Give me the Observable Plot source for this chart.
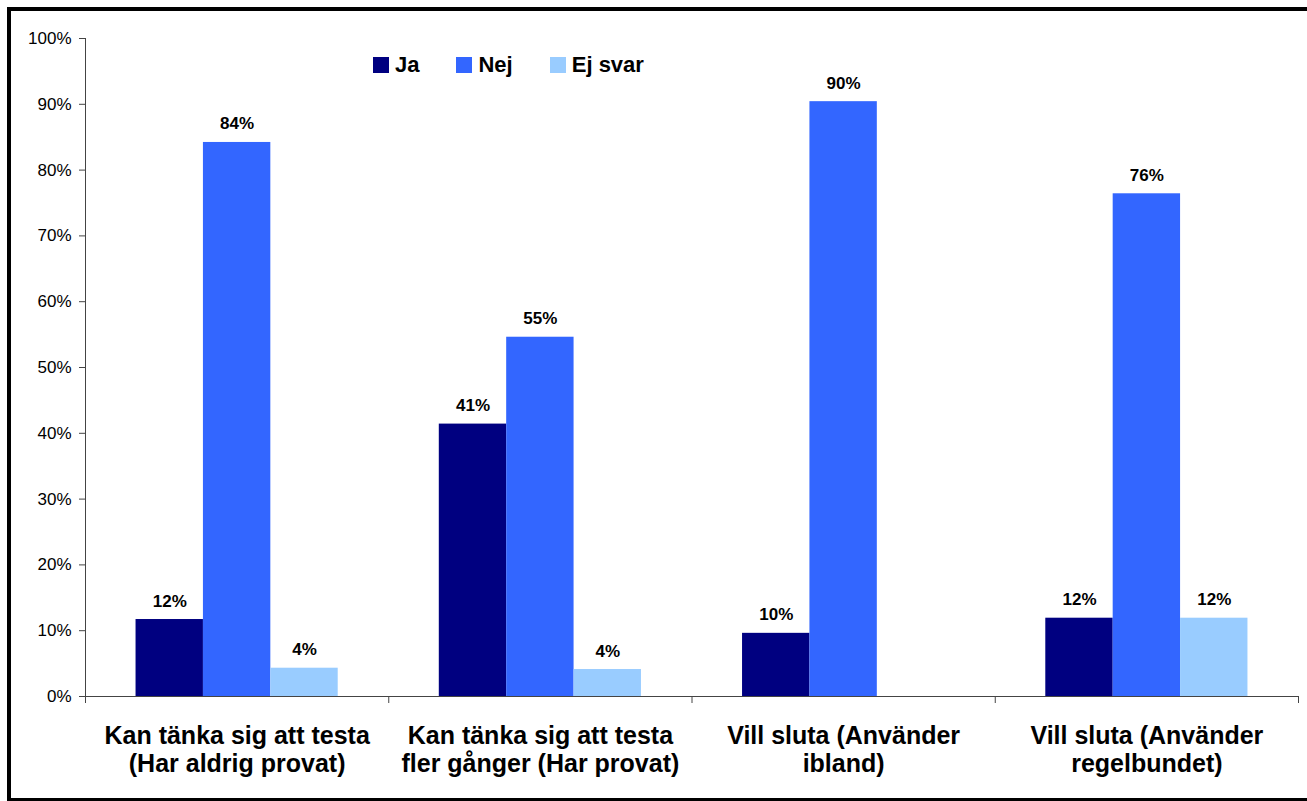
<!DOCTYPE html>
<html>
<head>
<meta charset="utf-8">
<script src="https://cdn.jsdelivr.net/npm/d3@7"></script>
<script src="https://cdn.jsdelivr.net/npm/@observablehq/plot@0.6"></script>
<style>
  html, body { margin: 0; padding: 0; background: #fff; overflow: hidden; width: 1307px; height: 801px; }
  #wrap { position: relative; width: 1307px; height: 801px; font-family: "Liberation Sans", Arial, sans-serif; }
  #chart { position: absolute; left: 0; top: 0; }
  #border { position: absolute; left: 7px; top: 7px; width: 1330px; height: 787px; border: 4px solid #000; box-sizing: content-box; pointer-events: none; }
  #legend { position: absolute; left: 373px; top: 52px; display: flex; gap: 37px; align-items: center; font-weight: bold; font-size: 22px; color: #000; }
  #legend .item { display: flex; align-items: center; gap: 6px; }
  #legend .sw { width: 16px; height: 16px; display: inline-block; }
</style>
</head>
<body>
<div id="wrap">
  <div id="chart"></div>
  <div id="legend"></div>
  <div id="border"></div>
</div>
<script>
const categories = [
  "Kan tänka sig att testa\n(Har aldrig provat)",
  "Kan tänka sig att testa\nfler gånger (Har provat)",
  "Vill sluta (Använder\nibland)",
  "Vill sluta (Använder\nregelbundet)"
];
const series = ["Ja", "Nej", "Ej svar"];
const colors = ["#000080", "#3366FF", "#99CCFF"];
const ja    = [0.117, 0.414, 0.096, 0.119];
const nej   = [0.842, 0.546, 0.904, 0.764];
const ejSvar = [0.043, 0.041, 0, 0.119];
const yTicks = [0, 0.1, 0.2, 0.3, 0.4, 0.5, 0.6, 0.7, 0.8, 0.9, 1.0];

const values = [ja, nej, ejSvar];
const rows = [];
categories.forEach((c, ci) => {
  series.forEach((s, si) => {
    rows.push({category: c, ci, series: s, si, value: values[si][ci]});
  });
});
// each category occupies one unit on x; the bar group fills the middle 2/3
const barW = 2 / 9;
rows.forEach(r => { r.x1 = r.ci + 1 / 6 + r.si * barW; r.x2 = r.x1 + barW; });

const font = "Liberation Sans, Arial, sans-serif";

const chart = Plot.plot({
  width: 1307,
  height: 801,
  marginLeft: 85,
  marginRight: 9,
  marginTop: 38,
  marginBottom: 105,
  style: {fontFamily: font, background: "transparent", overflow: "visible"},
  x: {type: "linear", domain: [0, categories.length], axis: null},
  y: {domain: [0, 1], axis: null},
  color: {domain: series, range: colors},
  marks: [
    Plot.rectY(rows, {x1: "x1", x2: "x2", y1: 0, y2: "value", fill: "series"}),
    Plot.ruleX([0], {y1: 0, y2: 1, stroke: "#444", strokeWidth: 1}),
    Plot.ruleY([0], {stroke: "#444", strokeWidth: 1}),
    Plot.axisY({ticks: yTicks, tickFormat: d3.format(".0%"), tickSize: 6, tickPadding: 8, label: null,
      fontSize: 17, fill: "#000", stroke: "#444", strokeOpacity: 1}),
    Plot.axisX({ticks: d3.range(0, categories.length + 1), tickSize: 7, tickFormat: () => "", label: null,
      stroke: "#444", strokeOpacity: 1}),
    Plot.text(rows.filter(r => r.value > 0), {
      x: r => (r.x1 + r.x2) / 2, y: "value", text: r => d3.format(".0%")(r.value),
      lineAnchor: "bottom", dy: -13, fontSize: 17, fontWeight: "bold", fill: "#000"
    }),
    Plot.text(categories, {
      x: (d, i) => i + 0.5, y: 0, text: d => d, lineAnchor: "top", dy: 28,
      fontSize: 25, lineHeight: 1.12, fontWeight: "bold", fill: "#000"
    })
  ]
});
document.getElementById("chart").appendChild(chart);

const legend = document.getElementById("legend");
series.forEach((s, i) => {
  const item = document.createElement("div");
  item.className = "item";
  const sw = document.createElement("span");
  sw.className = "sw";
  sw.style.background = colors[i];
  const t = document.createElement("span");
  t.textContent = s;
  item.appendChild(sw);
  item.appendChild(t);
  legend.appendChild(item);
});
</script>
</body>
</html>
